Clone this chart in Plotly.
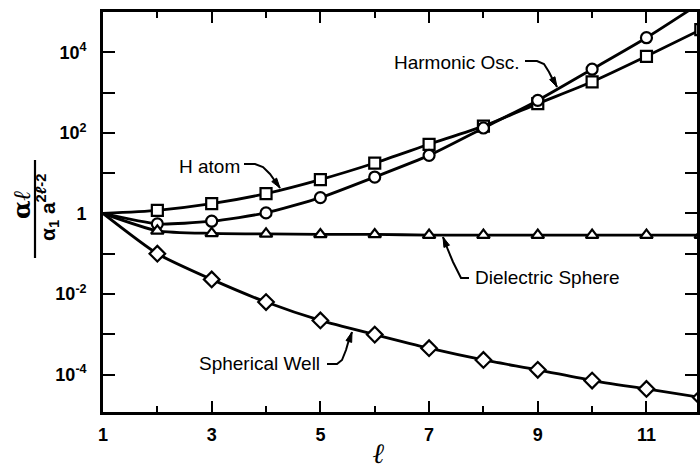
import plotly.graph_objects as go

# multipole order
ell = [1, 2, 3, 4, 5, 6, 7, 8, 9, 10, 11, 12]

# normalized polarizabilities alpha_l / (alpha_1 a^(2l-2))
h_atom = [1, 1.19, 1.74, 3.1, 6.9, 17.8, 52, 147, 530, 1850, 7950, 36500]
harmonic_osc = [1, 0.55, 0.64, 1.03, 2.46, 8.0, 27.6, 132, 640, 3800, 23000, 170000]
dielectric_sphere = [1, 0.37, 0.32, 0.31, 0.30, 0.30, 0.29, 0.29, 0.29, 0.29, 0.29, 0.29]
spherical_well = [1, 0.10, 0.023, 0.0063, 0.0022, 9.8e-4, 4.5e-4, 2.3e-4,
                  1.31e-4, 7.1e-5, 4.4e-5, 2.7e-5]

x_tick_vals = [1, 3, 5, 7, 9, 11]
x_tick_text = ["1", "3", "5", "7", "9", "11"]
x_minor_vals = [2, 4, 6, 8, 10, 12]
y_tick_vals = [1e-4, 1e-2, 1, 1e2, 1e4]
y_tick_text = ["10<sup>-4</sup>", "10<sup>-2</sup>", "1", "10<sup>2</sup>", "10<sup>4</sup>"]
y_minor_vals = [1e-3, 1e-1, 1e1, 1e3]

series = [
    ("H atom", h_atom, "square"),
    ("Harmonic Osc.", harmonic_osc, "circle"),
    ("Dielectric Sphere", dielectric_sphere, "triangle-up"),
    ("Spherical Well", spherical_well, "diamond"),
]
marker_sizes = {"square": 11, "circle": 11, "triangle-up": 11, "diamond": 12}

fig = go.Figure()
for name, vals, sym in series:
    fig.add_trace(go.Scatter(
        x=ell, y=vals, mode="lines", name=name,
        line=dict(color="black", width=2.8, shape="spline", smoothing=0.6),
        showlegend=False, hoverinfo="skip"))
for name, vals, sym in series:
    fig.add_trace(go.Scatter(
        x=ell[1:], y=vals[1:], mode="markers", name=name,
        marker=dict(symbol=sym, size=marker_sizes[sym], color="white",
                    line=dict(color="black", width=2.2)),
        showlegend=False))

# plot-area geometry in pixels
L, R, T, B = 103, 697, 12, 412
W, H = R - L, B - T


def paper(xp, yp):
    return (xp - L) / W, (B - yp) / H


def path(points):
    parts = []
    for i, (xp, yp) in enumerate(points):
        xx, yy = paper(xp, yp)
        parts.append(("M" if i == 0 else "L") + f"{xx:.5f},{yy:.5f}")
    return " ".join(parts)


def arrowhead(tip, back):
    """Small filled triangle pointing at tip, coming from direction of back."""
    tx, ty = tip
    bx, by = back
    dx, dy = tx - bx, ty - by
    n = (dx * dx + dy * dy) ** 0.5
    ux, uy = dx / n, dy / n
    length, half = 10, 3
    cx, cy = tx - ux * length, ty - uy * length
    p1 = (cx - uy * half, cy + ux * half)
    p2 = (cx + uy * half, cy - ux * half)
    return path([tip, p1, p2]) + " Z"


label_font = dict(family="Liberation Sans, Arial, sans-serif", size=19, color="black")

annotations = []
shapes = []

# curve labels: (text, centre, leader polyline ending at the arrow tip)
labels = [
    ("H atom", (209, 166),
     [(244, 164), (255, 164), (263, 167), (270, 174), (275, 181), (280, 188)]),
    ("Harmonic Osc.", (457, 62),
     [(525, 61), (537, 61), (544, 64), (549, 72), (552, 78), (557, 87)]),
    ("Dielectric Sphere", (547, 277),
     [(469, 278), (461, 278), (453, 262), (448, 250), (443, 237)]),
    ("Spherical Well", (259, 363),
     [(327, 364), (337, 364), (342, 360), (346, 350), (348, 343), (352, 332)]),
]
for text, (cx, cy), leader in labels:
    xx, yy = paper(cx, cy)
    annotations.append(dict(x=xx, y=yy, xref="paper", yref="paper", text=text,
                            showarrow=False, font=label_font,
                            xanchor="center", yanchor="middle"))
    shapes.append(dict(type="path", xref="paper", yref="paper", path=path(leader),
                       line=dict(color="black", width=2)))
    shapes.append(dict(type="path", xref="paper", yref="paper",
                       path=arrowhead(leader[-1], leader[-3]),
                       fillcolor="black", line=dict(color="black", width=1)))

# y-axis title as a fraction
num_x, num_y = paper(21, 205)
annotations.append(dict(x=num_x, y=num_y, xref="paper", yref="paper",
                        text="<b>α<i>ℓ</i></b>", textangle=-90, showarrow=False,
                        font=dict(family="DejaVu Serif, Liberation Serif, serif",
                                  size=24, color="black"),
                        xanchor="center", yanchor="middle"))
den_x, den_y = paper(47, 208)
annotations.append(dict(x=den_x, y=den_y, xref="paper", yref="paper",
                        text="<b>α<sub>1</sub> a<sup>2<i>ℓ</i>-2</sup></b>",
                        textangle=-90, showarrow=False,
                        font=dict(family="Liberation Sans, Arial, sans-serif",
                                  size=21, color="black"),
                        xanchor="center", yanchor="middle"))
bx0, by0 = paper(35, 258)
bx1, by1 = paper(35, 160)
shapes.append(dict(type="line", xref="paper", yref="paper", x0=bx0, x1=bx1,
                   y0=by0, y1=by1, line=dict(color="black", width=2.2)))

# x-axis title
xt_x, xt_y = paper(378, 453)
annotations.append(dict(x=xt_x, y=xt_y, xref="paper", yref="paper",
                        text="<b><i>ℓ</i></b>", showarrow=False,
                        font=dict(family="DejaVu Serif, Liberation Serif, serif",
                                  size=28, color="black"),
                        xanchor="center", yanchor="middle"))

tick_font = dict(family="Liberation Sans, Arial, sans-serif", size=18,
                 color="black", weight="bold")

fig.update_layout(
    width=700, height=470,
    margin=dict(l=L, r=700 - R, t=T, b=470 - B, autoexpand=False),
    paper_bgcolor="white", plot_bgcolor="white",
    annotations=annotations, shapes=shapes,
    xaxis=dict(range=[1, 11.93], tickmode="array", tickvals=x_tick_vals,
               ticktext=x_tick_text, ticks="inside", ticklen=11, tickwidth=2,
               tickcolor="black", showline=True, linewidth=2.6, linecolor="black",
               mirror="ticks", showgrid=False, zeroline=False, tickfont=tick_font,
               ticklabelstandoff=5,
               minor=dict(tickmode="array", tickvals=x_minor_vals, ticks="inside",
                          ticklen=6, tickwidth=2, tickcolor="black", showgrid=False)),
    yaxis=dict(type="log", range=[-4.93, 5.0], tickmode="array",
               tickvals=y_tick_vals, ticktext=y_tick_text, ticks="inside",
               ticklen=12, tickwidth=2, tickcolor="black", showline=True,
               linewidth=2.6, linecolor="black", mirror="ticks", showgrid=False,
               zeroline=False, tickfont=tick_font, ticklabelstandoff=10,
               minor=dict(tickmode="array", tickvals=y_minor_vals, ticks="inside",
                          ticklen=12, tickwidth=2, tickcolor="black", showgrid=False)),
)

fig.write_html("out.html")
